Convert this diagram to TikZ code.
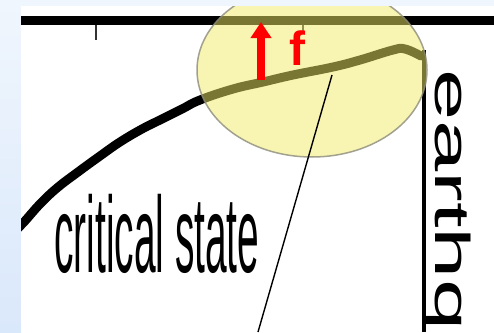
\documentclass[tikz,border=0pt]{standalone}
\usepackage{fontspec}
\setmainfont{Liberation Sans}
\definecolor{SlideBlue}{RGB}{240,246,253}
\definecolor{SlideBlueDark}{RGB}{218,232,251}
\definecolor{LensYellow}{RGB}{242,234,100}
\definecolor{LensEdge}{RGB}{140,140,125}
\usetikzlibrary{arrows.meta, positioning}
\tikzset{
    bar/.style={line width=9pt, draw=black},
    tickmark/.style={line width=1.2pt, draw=black!80},
    trace/.style={line width=9pt, line cap=round, line join=round, draw=black},
    lens/.style={fill=LensYellow, fill opacity=0.5, draw=LensEdge, draw opacity=0.8, line width=1.5pt},
    force/.style={-{Triangle[width=20pt,length=16pt]}, line width=8pt, draw=red},
    pointer/.style={line width=1.4pt, draw=black},
    bigtext/.style={inner sep=0pt, font=\fontsize{108}{108}\selectfont}
}

\begin{document}
\begin{tikzpicture}[x=1pt, y=-1pt]
    \useasboundingbox (0,0) rectangle (494,332);
    % slide background
    \shade[top color=SlideBlue, bottom color=SlideBlueDark] (0,0) rectangle (21,332);
    \fill[SlideBlue] (21,0) rectangle (494,6);
    \fill[white] (21,6) rectangle (494,332);

    \coordinate (barL) at (21,20.5);
    \coordinate (barR) at (494,20.5);
    \draw[bar] (barL) -- (barR);
    \coordinate (tickA) at (96,25);
    \coordinate (tickB) at (303,25);
    \draw[tickmark] (tickA) -- ++(0,15);
    \draw[tickmark] (tickB) -- ++(0,8);

    % critical state curve
    \begin{scope}
        \clip (21,6) rectangle (494,332);
        \draw[trace] plot[smooth, tension=0.7] coordinates {
            (12,234) (24,222) (40,204) (57,188) (78,172) (100,156) (120,142)
            (142,129) (162,119) (182,109) (200,100) (233,89) (263,82) (293,75)
            (333,67) (360,60) (393,50) (405,49) (421,56)};
    \end{scope}
    \coordinate (wallTop) at (424,50);
    \coordinate (wallBot) at (424,332);
    \draw[line width=4pt] (wallTop) -- (wallBot);

    \node[bigtext, anchor=base west] (state) at (54,272)
        {\scalebox{0.36}[1]{critical state}};
    \node[inner sep=0pt, anchor=base west, rotate=-90,
        font=\fontsize{49}{49}\selectfont] (quake) at (435,69)
        {\scalebox{1.88}[1]{earthqu}};

    % highlighted region
    \begin{scope}
        \clip (21,6) rectangle (494,332);
        \draw[lens] (312,70) ellipse [x radius=115, y radius=87];
    \end{scope}

    \coordinate (fBase) at (261,80);
    \coordinate (fTip) at (261,22);
    \draw[force] (fBase) -- (fTip);
    \node[text=red, font=\fontsize{48}{48}\selectfont\bfseries, inner sep=0pt,
        anchor=base west] (f) at (289,65) {f};

    \coordinate (onCurve) at (332,75);
    \coordinate (down) at (258,332);
    \draw[pointer] (onCurve) -- (down);
\end{tikzpicture}
\end{document}
